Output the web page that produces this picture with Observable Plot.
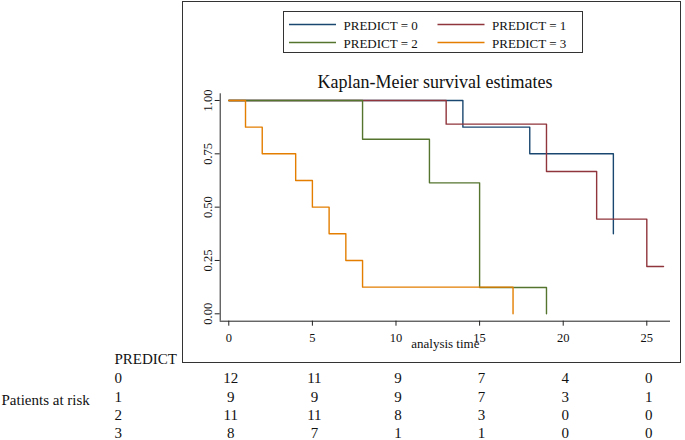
<!DOCTYPE html>
<html>
<head>
<meta charset="utf-8">
<script src="https://cdn.jsdelivr.net/npm/d3@7"></script>
<script src="https://cdn.jsdelivr.net/npm/@observablehq/plot@0.6"></script>
<style>
  body { margin: 0; background: #fff; }
  #wrap { position: relative; width: 685px; height: 440px; font-family: "Liberation Serif", "Times New Roman", serif; color: #111; }
  #wrap svg { position: absolute; left: 0; top: 0; }
  #wrap svg, #wrap svg text, #wrap svg g { font-family: "Liberation Serif", "Times New Roman", serif !important; }
  #box { position: absolute; left: 182px; top: 1px; width: 499px; height: 362px; border: 1px solid #333; box-sizing: border-box; pointer-events: none; }
  #title { position: absolute; left: 235px; width: 400px; top: 71px; text-align: center; font-size: 18px; line-height: 22px; }
  #legend { position: absolute; left: 283px; top: 11px; width: 300px; height: 42px; border: 1px solid #333; box-sizing: border-box; background: #fff; }
  #legend svg { position: absolute; left: 0; top: 0; }
</style>
</head>
<body>
<div id="wrap">
  <div id="box"></div>
  <div id="title">Kaplan-Meier survival estimates</div>
  <div id="legend"></div>
</div>
<script>
// ---- data ----
const groups = ["0", "1", "2", "3"];
const groupLabels = ["PREDICT = 0", "PREDICT = 1", "PREDICT = 2", "PREDICT = 3"];
const colors = ["#1a476f", "#90353b", "#55752f", "#e37e00"];

const time0 = [0, 14, 18, 23];
const surv0 = [1, 0.875, 0.75, 0.375];
const time1 = [0, 13, 19, 22, 25, 26];
const surv1 = [1, 0.889, 0.667, 0.444, 0.222, 0.222];
const time2 = [0, 8, 12, 15, 19];
const surv2 = [1, 0.818, 0.614, 0.123, 0];
const time3 = [0, 1, 2, 4, 5, 6, 7, 8, 17];
const surv3 = [1, 0.875, 0.75, 0.625, 0.5, 0.375, 0.25, 0.125, 0];

const xTicks = [0, 5, 10, 15, 20, 25];
const yTicks = [0, 0.25, 0.5, 0.75, 1];
const xTitle = "analysis time";

const riskTimes = [0, 5, 10, 15, 20, 25];
const risk0 = [12, 11, 9, 7, 4, 0];
const risk1 = [9, 9, 9, 7, 3, 1];
const risk2 = [11, 11, 8, 3, 0, 0];
const risk3 = [8, 7, 1, 1, 0, 0];
const riskHeader = "PREDICT";
const riskTitle = "Patients at risk";

// ---- build tables ----
const times = [time0, time1, time2, time3];
const survs = [surv0, surv1, surv2, surv3];
const curves = groups.flatMap((g, i) => times[i].map((t, j) => ({group: g, time: t, surv: survs[i][j]})));
const risks = [risk0, risk1, risk2, risk3];
const riskCols = riskTimes.map((t, j) => ({time: t, text: risks.map(r => String(r[j])).join("\n")}));

const xDomain = [-0.514, 26.417];
const yDomain = [-0.0347, 1.0314];

const W = 685, H = 440;
const mL = 219.7, mR = 15, mT = 93.3, mB = 119.3;
const serif = "Liberation Serif";

const chart = Plot.plot({
  width: W,
  height: H,
  marginLeft: mL,
  marginRight: mR,
  marginTop: mT,
  marginBottom: mB,
  style: {fontFamily: serif, fontSize: "12.5px", color: "#111", background: "transparent"},
  x: {domain: xDomain},
  y: {domain: yDomain},
  color: {domain: groups, range: colors},
  marks: [
    Plot.ruleY([yDomain[0]], {stroke: "#222", strokeWidth: 1}),
    Plot.ruleX([xDomain[0]], {stroke: "#222", strokeWidth: 1}),
    Plot.axisX({ticks: xTicks, tickSize: 5, tickPadding: 7, label: null, stroke: "#222", fill: "#111", fontFamily: serif, fontSize: 12.5}),
    Plot.axisY({ticks: yTicks, tickSize: 5, tickFormat: () => "", label: null, stroke: "#222"}),
    Plot.text(yTicks, {y: d => d, text: d => d3.format(".2f")(d), frameAnchor: "left", rotate: -90, textAnchor: "middle", lineAnchor: "bottom", dx: -8, fontSize: 12.5, fontFamily: serif, fill: "#111"}),
    Plot.text([xTitle], {frameAnchor: "bottom", lineAnchor: "bottom", dy: 26.8, fontSize: 13, fontFamily: serif, fill: "#111"}),
    Plot.line(curves, {x: "time", y: "surv", z: "group", stroke: "group", curve: "step-after", strokeWidth: 1.4}),
    // risk table
    Plot.text([riskHeader], {frameAnchor: "bottom-left", textAnchor: "start", lineAnchor: "bottom", dx: -105.7, dy: 42.6, fontSize: 15, fontFamily: serif, fill: "#111"}),
    Plot.text([groups.join("\n")], {frameAnchor: "bottom-left", textAnchor: "start", lineAnchor: "top", dx: -105.7, dy: 49.2, fontSize: 15, lineHeight: 1.222, fontFamily: serif, fill: "#111"}),
    Plot.text([riskTitle], {frameAnchor: "bottom-left", textAnchor: "start", lineAnchor: "bottom", dx: -218.7, dy: 83.3, fontSize: 15, fontFamily: serif, fill: "#111"}),
    Plot.text(riskCols, {x: "time", text: "text", frameAnchor: "bottom", lineAnchor: "top", dx: 2, dy: 49.2, fontSize: 15, lineHeight: 1.222, fontFamily: serif, fill: "#111"})
  ]
});
document.getElementById("wrap").insertBefore(chart, document.getElementById("box"));

// ---- legend ----
const leg = d3.select("#legend").append("svg").attr("width", 300).attr("height", 42);
groups.forEach((g, i) => {
  const col = i % 2, row = Math.floor(i / 2);
  const x0 = 5 + col * 148.5;
  const y0 = 12.5 + row * 18;
  leg.append("line").attr("x1", x0).attr("x2", x0 + 47).attr("y1", y0).attr("y2", y0)
    .attr("stroke", colors[i]).attr("stroke-width", 1.4);
  leg.append("text").attr("x", x0 + 54.5).attr("y", y0 + 5)
    .attr("font-size", 13).attr("font-family", serif)
    .attr("fill", "#111").text(groupLabels[i]);
});
</script>
</body>
</html>
